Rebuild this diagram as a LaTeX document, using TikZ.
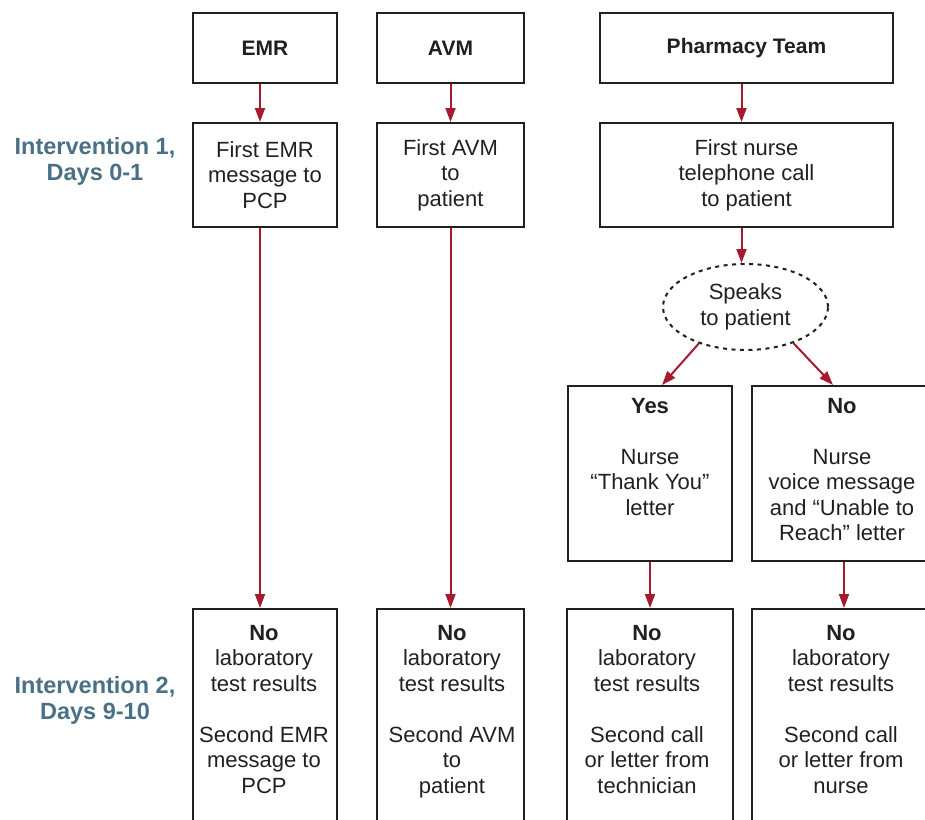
\documentclass[tikz,border=0pt]{standalone}
\usepackage{fontspec}
\setmainfont{Liberation Sans}
\usetikzlibrary{arrows.meta,shapes.geometric}
\definecolor{boxline}{HTML}{231F20}
\definecolor{arrred}{HTML}{A6192E}
\definecolor{labblue}{HTML}{4A7086}
\begin{document}
\begin{tikzpicture}[x=1pt,y=-1pt,
  box/.style={draw=boxline, line width=2pt, rectangle, align=center, inner sep=0pt,
    font=\fontsize{22}{25.5}\selectfont, text=boxline},
  title/.style={font=\bfseries\fontsize{21}{25.5}\selectfont},
  txt/.style={align=center, inner sep=0pt, font=\fontsize{22}{25.5}\selectfont, text=boxline},
  arr/.style={draw=arrred, line width=2pt, -{Triangle[length=14pt,width=10pt]}},
  lab/.style={text=labblue, align=center, inner sep=0pt, font=\bfseries\fontsize{23.5}{26}\selectfont}]
\clip (0,0) rectangle (925,819);
% left labels
\node[lab] (int1) at (95,161) {Intervention 1,\\Days 0-1};
\node[lab] (int2) at (95,700) {Intervention 2,\\Days 9-10};
% row 1
\node[box, title, minimum width=144pt, minimum height=70pt] (emr) at (265,48) {EMR};
\node[box, title, minimum width=147pt, minimum height=70pt] (avm) at (450.5,48) {AVM};
\node[box, title, minimum width=293pt, minimum height=70pt] (pharm) at (746.5,48) {Pharmacy Team};
% row 2
\node[box, minimum width=144pt, minimum height=104pt] (emr2) at (265,175) {First EMR\\message to\\PCP};
\node[box, minimum width=147pt, minimum height=104pt] (avm2) at (450.5,175) {First AVM\\to\\patient};
\node[box, minimum width=293pt, minimum height=104pt] (pharm2) at (746.5,175) {First nurse\\telephone call\\to patient};
% decision
\node[ellipse, draw=boxline, line width=2pt, dash pattern=on 4pt off 4.5pt, minimum width=165pt,
  minimum height=86pt, inner sep=0pt, align=center, font=\fontsize{22}{25.5}\selectfont, text=boxline]
  (speaks) at (745.5,307) {Speaks\\to patient};
% yes / no
\node[box, minimum width=164pt, minimum height=175pt] (yes) at (650,473.5) {};
\node[txt, anchor=north] (yest) at (650,398) {\textbf{Yes}\\[25.5pt]Nurse\\“Thank You”\\letter};
\node[box, minimum width=184pt, minimum height=175pt] (no) at (844,473.5) {};
\node[txt, anchor=north] (not) at (842,398) {\textbf{No}\\[25.5pt]Nurse\\voice message\\and “Unable to\\Reach” letter};
% bottom row
\node[box, minimum width=144pt, minimum height=241pt] (b1) at (265,729.5) {};
\node[txt, anchor=north] (b1t) at (264,625) {\textbf{No}\\laboratory\\test results\\[25.5pt]Second EMR\\message to\\PCP};
\node[box, minimum width=147pt, minimum height=241pt] (b2) at (450.5,729.5) {};
\node[txt, anchor=north] (b2t) at (452,625) {\textbf{No}\\laboratory\\test results\\[25.5pt]Second AVM\\to\\patient};
\node[box, minimum width=166pt, minimum height=241pt] (b3) at (650,729.5) {};
\node[txt, anchor=north] (b3t) at (647,625) {\textbf{No}\\laboratory\\test results\\[25.5pt]Second call\\or letter from\\technician};
\node[box, minimum width=184pt, minimum height=241pt] (b4) at (844,729.5) {};
\node[txt, anchor=north] (b4t) at (841,625) {\textbf{No}\\laboratory\\test results\\[25.5pt]Second call\\or letter from\\nurse};
% arrows
\draw[arr] ([xshift=-5pt]emr.south) -- ([xshift=-5pt]emr2.north);
\draw[arr] ([xshift=-5pt]emr2.south) -- ([xshift=-5pt]b1.north);
\draw[arr] (avm.south) -- (avm2.north);
\draw[arr] (avm2.south) -- (b2.north);
\draw[arr] ([xshift=-5pt]pharm.south) -- ([xshift=-5pt]pharm2.north);
\draw[arr] ([xshift=-5pt]pharm2.south) -- ([xshift=-5pt]pharm2.south |- speaks.north);
\draw[arr] (speaks.218) -- ([xshift=12pt]yes.north);
\draw[arr] (speaks.323) -- ([xshift=-11pt]no.north);
\draw[arr] (yes.south) -- (b3.north);
\draw[arr] (no.south) -- (b4.north);
\end{tikzpicture}
\end{document}
